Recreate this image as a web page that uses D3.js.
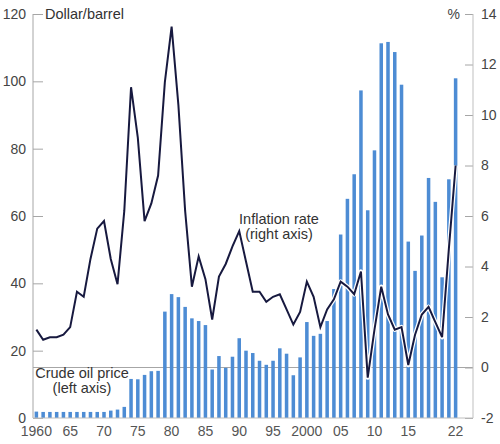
<!DOCTYPE html>
<html>
<head>
<meta charset="utf-8">
<script src="https://cdnjs.cloudflare.com/ajax/libs/d3/7.8.5/d3.min.js"></script>
<style>
  body { margin: 0; background: #fff; }
  text { font-family: "Liberation Sans", Arial, sans-serif; fill: #333; }
  .tick-label { font-family: "Liberation Sans Narrow", "Liberation Sans", Arial, sans-serif; font-size: 14px; fill: #444; }
  .note { font-size: 14.5px; fill: #333; }
</style>
</head>
<body>
<div id="chart"></div>
<script>
// Data
// ==============================
var years = d3.range(1960, 2023);

// Crude oil price, dollar/barrel (bars, left axis)
var oilPrice = [
  1.9, 1.8, 1.8, 1.8, 1.8, 1.8, 1.8, 1.8, 1.8, 1.8,
  1.8, 2.2, 2.5, 3.3, 11.6, 11.5, 12.8, 13.9, 14.0, 31.6,
  36.8, 35.9, 33.0, 29.6, 28.8, 27.6, 14.4, 18.4, 14.9, 18.2,
  23.7, 20.0, 19.3, 17.0, 15.8, 17.0, 20.7, 19.1, 12.7, 18.0,
  28.5, 24.4, 25.0, 28.8, 38.3, 54.5, 65.1, 72.4, 97.3, 61.7,
  79.5, 111.3, 111.7, 108.7, 99.0, 52.4, 43.7, 54.2, 71.3, 64.2,
  41.8, 70.9, 100.9
];

// Inflation rate, % (line, right axis)
var inflation = [
  1.5, 1.1, 1.2, 1.2, 1.3, 1.6, 3.0, 2.8, 4.3, 5.5,
  5.8, 4.3, 3.3, 6.2, 11.1, 9.1, 5.8, 6.5, 7.6, 11.3,
  13.5, 10.4, 6.2, 3.2, 4.4, 3.5, 1.9, 3.6, 4.1, 4.8,
  5.4, 4.2, 3.0, 3.0, 2.6, 2.8, 2.9, 2.3, 1.7, 2.2,
  3.4, 2.8, 1.6, 2.3, 2.7, 3.4, 3.2, 2.9, 3.8, -0.4,
  1.5, 3.2, 2.1, 1.5, 1.6, 0.1, 1.3, 2.1, 2.4, 1.8,
  1.2, 4.7, 8.0
];

// Tick labels
var xTickYears = [1960, 1965, 1970, 1975, 1980, 1985, 1990, 1995, 2000, 2005, 2010, 2015, 2022];
var xTickLabels = ["1960", "65", "70", "75", "80", "85", "90", "95", "2000", "05", "10", "15", "22"];
var leftTicks = [0, 20, 40, 60, 80, 100, 120];
var rightTicks = [-2, 0, 2, 4, 6, 8, 10, 12, 14];

// Chart area
// ==============================
var svgWidth = 500;
var svgHeight = 444;
var plot = { left: 33, right: 473, barsRight: 459, top: 14, bottom: 418 };

var svg = d3.select("#chart")
  .append("svg")
  .attr("width", svgWidth)
  .attr("height", svgHeight);

// Scales
// ==============================
var xScale = d3.scaleBand()
  .domain(years)
  .range([plot.left, plot.barsRight])
  .paddingInner(0.48)
  .paddingOuter(0.24);

var yLeft = d3.scaleLinear()
  .domain([0, 120])
  .range([plot.bottom, plot.top]);

var yRight = d3.scaleLinear()
  .domain([-2, 14])
  .range([plot.bottom, plot.top]);

var xMid = function(yr) { return xScale(yr) + xScale.bandwidth() / 2; };

// Zero line of the right axis
svg.append("line")
  .attr("x1", plot.left)
  .attr("x2", plot.right)
  .attr("y1", yRight(0))
  .attr("y2", yRight(0))
  .attr("stroke", "#a6a6a6")
  .attr("stroke-width", 1);

// Bars: crude oil price
// ==============================
svg.append("g")
  .selectAll("rect")
  .data(years)
  .enter()
  .append("rect")
  .attr("x", d => xScale(d))
  .attr("width", xScale.bandwidth())
  .attr("y", (d, i) => yLeft(oilPrice[i]))
  .attr("height", (d, i) => plot.bottom - yLeft(oilPrice[i]))
  .attr("fill", "#4d8cd4");

// Line: inflation rate (white halo underneath)
// ==============================
var line = d3.line()
  .x((d, i) => xMid(years[i]))
  .y(d => yRight(d));

svg.append("path")
  .datum(inflation)
  .attr("d", line)
  .attr("fill", "none")
  .attr("stroke", "#fff")
  .attr("stroke-width", 4.5)
  .attr("stroke-linejoin", "round");

svg.append("path")
  .datum(inflation)
  .attr("d", line)
  .attr("fill", "none")
  .attr("stroke", "#17193f")
  .attr("stroke-width", 2)
  .attr("stroke-linejoin", "miter");

// Axes
// ==============================
var leftAxis = d3.axisRight(yLeft)
  .tickValues(leftTicks)
  .tickSize(10)
  .tickFormat("");

var rightAxis = d3.axisLeft(yRight)
  .tickValues(rightTicks)
  .tickSize(8)
  .tickFormat("");

var gLeft = svg.append("g")
  .attr("transform", `translate(${plot.left}, 0)`)
  .call(leftAxis);

var gRight = svg.append("g")
  .attr("transform", `translate(${plot.right}, 0)`)
  .call(rightAxis);

[gLeft, gRight].forEach(function(g) {
  g.select(".domain").remove();
  g.selectAll(".tick line").attr("stroke", "#a6a6a6");
});

svg.append("line")
  .attr("x1", plot.left).attr("x2", plot.left)
  .attr("y1", plot.top).attr("y2", plot.bottom)
  .attr("stroke", "#a6a6a6");

svg.append("line")
  .attr("x1", plot.right).attr("x2", plot.right)
  .attr("y1", plot.top).attr("y2", plot.bottom)
  .attr("stroke", "#bfbfbf");

svg.append("line")
  .attr("x1", plot.left).attr("x2", plot.right)
  .attr("y1", plot.bottom).attr("y2", plot.bottom)
  .attr("stroke", "#bfbfbf");

// Tick labels
svg.append("g")
  .selectAll("text")
  .data(leftTicks)
  .enter()
  .append("text")
  .attr("class", "tick-label")
  .attr("x", 26)
  .attr("y", d => yLeft(d))
  .attr("dy", "0.35em")
  .attr("text-anchor", "end")
  .text(d => d);

svg.append("g")
  .selectAll("text")
  .data(rightTicks)
  .enter()
  .append("text")
  .attr("class", "tick-label")
  .attr("x", 481)
  .attr("y", d => yRight(d))
  .attr("dy", "0.35em")
  .attr("text-anchor", "start")
  .text(d => d);

svg.append("g")
  .selectAll("text")
  .data(xTickYears)
  .enter()
  .append("text")
  .attr("class", "tick-label")
  .attr("x", d => xMid(d))
  .attr("y", 436)
  .attr("text-anchor", "middle")
  .style("fill", "#555")
  .text((d, i) => xTickLabels[i]);

// Unit and series labels
// ==============================
svg.append("text")
  .attr("class", "note")
  .attr("x", 45)
  .attr("y", 19)
  .text("Dollar/barrel");

svg.append("text")
  .attr("class", "tick-label")
  .attr("x", 460)
  .attr("y", 14)
  .attr("dy", "0.35em")
  .attr("text-anchor", "end")
  .text("%");

svg.append("text")
  .attr("class", "note")
  .attr("x", 279)
  .attr("y", 224)
  .attr("text-anchor", "middle")
  .text("Inflation rate");

svg.append("text")
  .attr("class", "note")
  .attr("x", 279)
  .attr("y", 239)
  .attr("text-anchor", "middle")
  .text("(right axis)");

svg.append("text")
  .attr("class", "note")
  .attr("x", 82)
  .attr("y", 378)
  .attr("text-anchor", "middle")
  .text("Crude oil price");

svg.append("text")
  .attr("class", "note")
  .attr("x", 82)
  .attr("y", 393)
  .attr("text-anchor", "middle")
  .text("(left axis)");
</script>
</body>
</html>
